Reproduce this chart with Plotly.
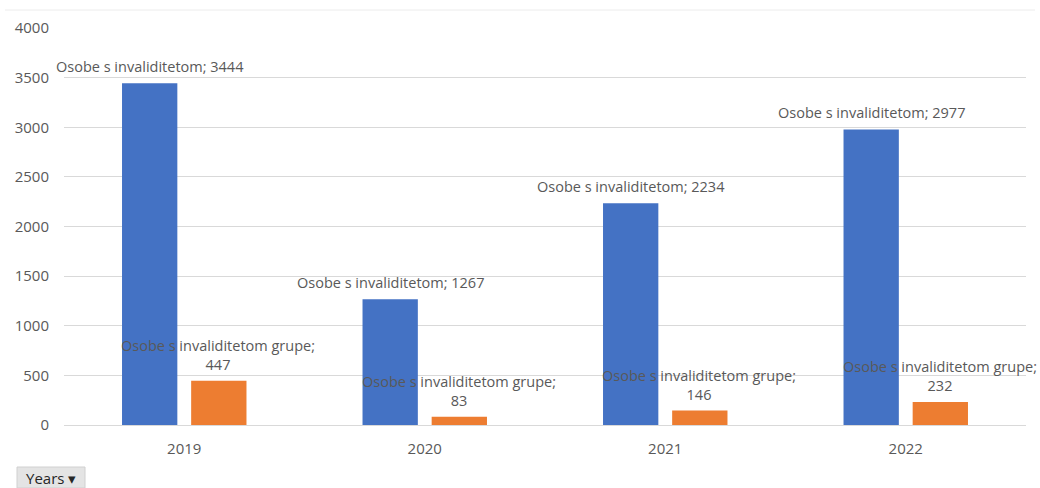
import plotly.graph_objects as go

years = ["2019", "2020", "2021", "2022"]
osobe = [3444, 1267, 2234, 2977]
grupe = [447, 83, 146, 232]
name_osobe = "Osobe s invaliditetom"
name_grupe = "Osobe s invaliditetom grupe"
y_ticks = [0, 500, 1000, 1500, 2000, 2500, 3000, 3500, 4000]

# body margin removed via post_script, so the figure fills the window
OFF = 0
W, H = 1040, 488
L, R, T, B = 64, 14, 28, 63
pw, ph = W - L - R, H - T - B

font = "'Open Sans', sans-serif"
gray = "#595959"
lab_size = 14.5

fig = go.Figure()
fig.add_trace(go.Bar(x=years, y=osobe, name=name_osobe, marker_color="#4472C4",
                     marker_line_width=0, offsetgroup="a"))
fig.add_trace(go.Bar(x=years, y=grupe, name=name_grupe, marker_color="#ED7D31",
                     marker_line_width=0, offsetgroup="b"))

annotations = []
for i, (yr, v) in enumerate(zip(years, osobe)):
    annotations.append(dict(x=i, y=v, xref="x", yref="y", xshift=-34, yshift=17,
                            text=f"{name_osobe}; {v}", showarrow=False,
                            xanchor="center", yanchor="middle",
                            font=dict(family=font, size=lab_size, color=gray)))
for i, (yr, v) in enumerate(zip(years, grupe)):
    annotations.append(dict(x=i, y=v, xref="x", yref="y", xshift=34, yshift=26,
                            text=f"{name_grupe};<br>{v}", showarrow=False,
                            xanchor="center", yanchor="middle",
                            font=dict(family=font, size=lab_size, color=gray)))

# "Years" filter button (screen px 17-85, 467-488)
bx0 = (17 - OFF - L) / pw
bx1 = (85 - OFF - L) / pw
by0 = -(467 - OFF - T - ph) / ph
by1 = -(488 - OFF - T - ph) / ph
annotations.append(dict(x=(bx0 + bx1) / 2, y=(by0 + by1) / 2, xref="paper", yref="paper",
                        xanchor="center", yanchor="middle",
                        text="Years ▾", showarrow=False,
                        font=dict(family=font, size=15, color="#262626")))

line_y = 1 + (T - (10 - OFF)) / ph

fig.update_layout(
    width=W, height=H,
    margin=dict(l=L, r=R, t=T, b=B, autoexpand=False),
    paper_bgcolor="white", plot_bgcolor="white",
    showlegend=False,
    barmode="group", bargap=0.425, bargroupgap=0.2,
    font=dict(family=font, size=15, color=gray),
    xaxis=dict(type="category", range=[-0.5, len(years) - 0.5], showgrid=False,
               showline=True, linecolor="#d9d9d9",
               linewidth=1, ticks="", tickfont=dict(size=15, color=gray),
               ticklabelstandoff=10),
    yaxis=dict(range=[0, 4000], tickvals=y_ticks, showgrid=True, gridcolor="#d9d9d9",
               gridwidth=1, zeroline=False, ticks="", tickfont=dict(size=15, color=gray),
               ticklabelstandoff=14),
    annotations=annotations,
    shapes=[
        dict(type="line", xref="paper", yref="paper", x0=(5 - OFF - L) / pw, x1=(1035 - OFF - L) / pw,
             y0=line_y, y1=line_y, line=dict(color="#ececec", width=1)),
        dict(type="rect", xref="paper", yref="paper", x0=bx0, x1=bx1, y0=by1, y1=by0,
             fillcolor="#e4e4e4", line=dict(color="#d0d0d0", width=1), layer="below"),
    ],
)

fig.write_html("out.html", config={"displayModeBar": False},
               post_script="document.body.style.margin='0';document.body.style.overflow='hidden';")
